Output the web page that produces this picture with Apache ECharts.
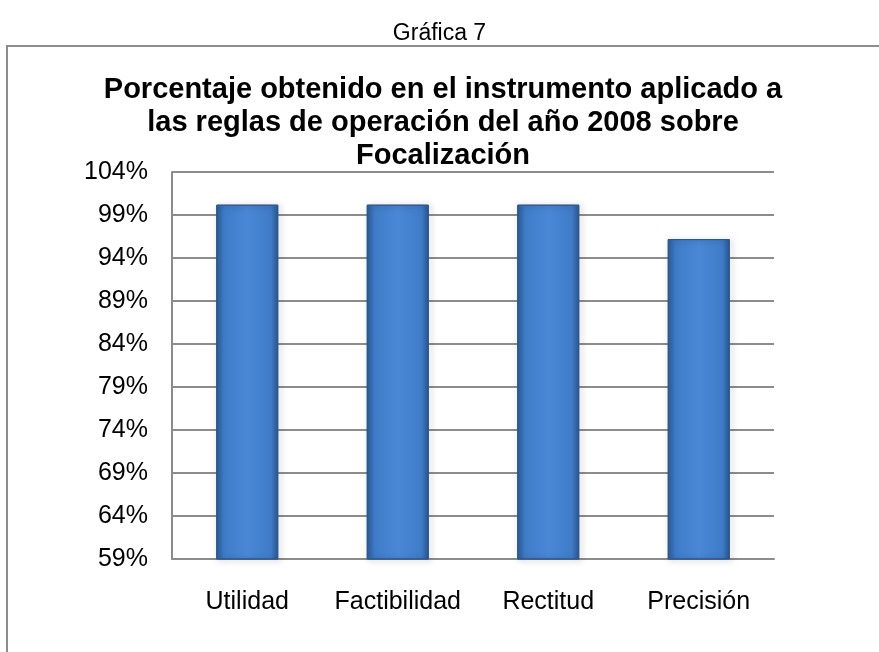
<!DOCTYPE html>
<html>
<head>
<meta charset="utf-8">
<script src="https://cdn.jsdelivr.net/npm/echarts@6/dist/echarts.min.js"></script>
<style>
  html, body { margin: 0; padding: 0; background: #fff; }
  #chart { width: 879px; height: 652px; }
</style>
</head>
<body>
<div id="chart"></div>
<script>
const categories = ["Utilidad", "Factibilidad", "Rectitud", "Precisión"];
const values = [100.2, 100.2, 100.2, 96.2];
const yMin = 59;
const yMax = 104;
const yStep = 5;

const chart = echarts.init(document.getElementById("chart"));
const font = "Liberation Sans, Arial, sans-serif";

const option = {
  backgroundColor: "#fff",
  title: [
    {
      text: "Gráfica 7",
      left: "center",
      top: 17,
      textStyle: { fontFamily: font, fontSize: 23, fontWeight: "normal", color: "#000" },
    },
    {
      // titulo principal, tres renglones
      text: "Porcentaje obtenido en el instrumento aplicado a\nlas reglas de operación del año 2008 sobre\nFocalización",
      left: 438,
      textAlign: "center",
      top: 68,
      textStyle: { fontFamily: font, fontSize: 29, fontWeight: "bold", color: "#000", lineHeight: 33 },
    },
  ],
  graphic: [
    {
      type: "rect",
      shape: { x: 7, y: 46, width: 890, height: 640 },
      style: { fill: "none", stroke: "#8c8c8c", lineWidth: 2 },
      silent: true,
    },
  ],
  grid: { left: 172, right: 105, top: 172, bottom: 93 },
  xAxis: {
    type: "category",
    data: categories,
    axisLine: { lineStyle: { color: "#8c8c8c", width: 2 } },
    axisTick: { show: false },
    axisLabel: { color: "#000", fontFamily: font, fontSize: 25, margin: 31, interval: 0 },
  },
  yAxis: {
    type: "value",
    min: yMin,
    max: yMax,
    interval: yStep,
    axisLine: { show: true, lineStyle: { color: "#8c8c8c", width: 2 } },
    axisTick: { show: false },
    splitLine: { lineStyle: { color: "#8c8c8c", width: 2 } },
    axisLabel: { color: "#000", fontFamily: font, fontSize: 25, margin: 24, formatter: "{value}%" },
  },
  series: [
    {
      type: "bar",
      data: values,
      barWidth: 62,
      itemStyle: {
        color: new echarts.graphic.LinearGradient(0, 0, 1, 0, [
          { offset: 0, color: "#2c5e9e" },
          { offset: 0.12, color: "#3f7cc8" },
          { offset: 0.5, color: "#4a88d6" },
          { offset: 0.88, color: "#3f7cc8" },
          { offset: 1, color: "#2a5894" },
        ]),
        borderColor: "#2b5790",
        borderWidth: 1,
        shadowColor: "rgba(0,0,0,0.35)",
        shadowBlur: 6,
        shadowOffsetX: 2,
        shadowOffsetY: 1,
      },
    },
  ],
};
chart.setOption(option);
</script>
</body>
</html>
